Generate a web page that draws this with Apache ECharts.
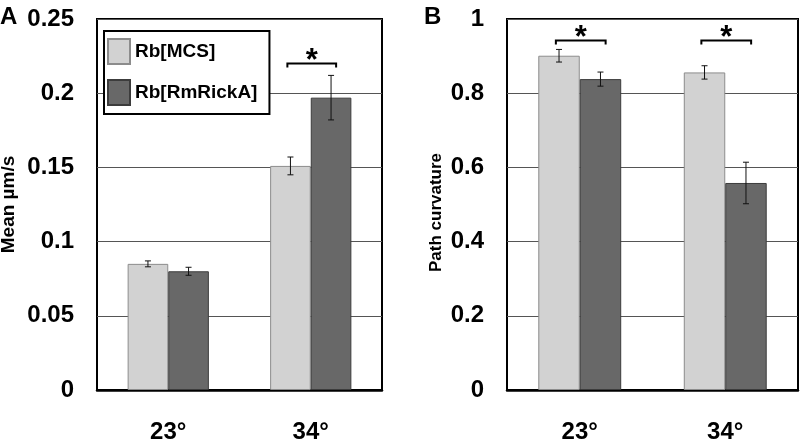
<!DOCTYPE html>
<html><head><meta charset="utf-8">
<script src="https://cdn.jsdelivr.net/npm/echarts@6/dist/echarts.min.js"></script>
<style>html,body{margin:0;padding:0;background:#fff}#c{width:800px;height:440px}</style>
</head><body><div id="c"></div>
<script>
const categories = ['23°', '34°'];
const seriesNames = ['Rb[MCS]', 'Rb[RmRickA]'];
const speedMCS = [0.085, 0.151];
const speedMCSErr = [0.002, 0.006];
const speedRick = [0.080, 0.197];
const speedRickErr = [0.0027, 0.015];
const curvMCS = [0.901, 0.856];
const curvMCSErr = [0.017, 0.018];
const curvRick = [0.838, 0.558];
const curvRickErr = [0.019, 0.056];
const sigA = [[1, 0.22]];
const sigB = [[0, 0.942], [1, 0.942]];
const yTicksA = {min: 0, max: 0.25, interval: 0.05};
const yTicksB = {min: 0, max: 1, interval: 0.2};

const FONT = 'Liberation Sans';
const LIGHT = {color: '#d2d2d2', borderColor: '#8c8c8c', borderWidth: 1};
const DARK = {color: '#686868', borderColor: '#3c3c3c', borderWidth: 1};
const GAP = 0.43;

function errSeries(gi, vals, errs, sign) {
  return {
    type: 'custom', xAxisIndex: gi, yAxisIndex: gi, z: 5, silent: true,
    data: vals.map((v, i) => [i, v, errs[i]]),
    encode: {x: 0, y: 1},
    renderItem: function (params, api) {
      const band = api.size([1, 0])[0];
      const bw = band * (1 - GAP) / 2;
      const i = api.value(0), v = api.value(1), e = api.value(2);
      const x = api.coord([i, v])[0] + sign * bw / 2;
      const yt = api.coord([i, v + e])[1];
      const yb = api.coord([i, v - e])[1];
      const st = {stroke: '#111', lineWidth: 1};
      return {type: 'group', children: [
        {type: 'line', shape: {x1: x, y1: yt, x2: x, y2: yb}, style: st},
        {type: 'line', shape: {x1: x - 3, y1: yt, x2: x + 3, y2: yt}, style: st},
        {type: 'line', shape: {x1: x - 3, y1: yb, x2: x + 3, y2: yb}, style: st}
      ]};
    }
  };
}
function sigSeries(gi, data) {
  return {
    type: 'custom', xAxisIndex: gi, yAxisIndex: gi, z: 6, silent: true,
    data: data, encode: {x: 0, y: 1},
    renderItem: function (params, api) {
      const band = api.size([1, 0])[0];
      const bw = band * (1 - GAP) / 2;
      const c = api.coord([api.value(0), api.value(1)]);
      const x1 = c[0] - bw * 0.6 + 1, x2 = c[0] + bw * 0.6 + 1, y = c[1];
      return {type: 'group', children: [
        {type: 'polyline', shape: {points: [[x1, y + 4], [x1, y], [x2, y], [x2, y + 4]]},
          style: {stroke: '#000', lineWidth: 2, fill: null}},
        {type: 'text', style: {text: '*', x: c[0] + 1, y: y + 13, align: 'center', verticalAlign: 'bottom',
          font: 'bold 31px "' + FONT + '"', fill: '#000'}}
      ]};
    }
  };
}
const axisLabelY = {fontSize: 24, fontWeight: 'bold', color: '#000', fontFamily: FONT, margin: 23};
function yAxis(t, name, pad) {
  return Object.assign({type: 'value', name: name, nameLocation: 'middle',
    nameGap: pad.gap,
    nameTextStyle: {fontSize: pad.fs, fontWeight: 'bold', color: '#000', fontFamily: FONT, padding: pad.p},
    axisLine: {show: false}, axisTick: {show: false},
    axisLabel: axisLabelY,
    splitLine: {lineStyle: {color: '#555', width: 1}}}, t);
}
function xAxis(gi) {
  return {type: 'category', gridIndex: gi, data: categories,
    axisLine: {lineStyle: {color: '#000', width: 2.5}}, axisTick: {show: false},
    axisLabel: {fontSize: 24, fontWeight: 'bold', color: '#000', fontFamily: FONT, margin: 30}};
}
const chart = echarts.init(document.getElementById('c'), null, {renderer: 'canvas'});
chart.setOption({
  animation: false,
  backgroundColor: '#fff',
  grid: [
    {left: 97, right: 418, top: 19, bottom: 50, show: true, borderColor: '#000', borderWidth: 2, outerBoundsMode: 'none', containLabel: false},
    {left: 507, right: 2, top: 19, bottom: 50, show: true, borderColor: '#000', borderWidth: 2, outerBoundsMode: 'none', containLabel: false}
  ],
  xAxis: [xAxis(0), xAxis(1)],
  yAxis: [
    Object.assign(yAxis(yTicksA, 'Mean µm/s', {gap: 79, fs: 19, p: [0, 0, 0, 0]}), {gridIndex: 0}),
    Object.assign(yAxis(yTicksB, 'Path curvature', {gap: 62, fs: 17, p: [0, 16, 0, 0]}), {gridIndex: 1})
  ],
  legend: {
    data: seriesNames, orient: 'vertical', left: 104, top: 31,
    itemWidth: 22, itemHeight: 25, itemGap: 14, icon: 'rect',
    padding: [7, 12, 8, 3], borderColor: '#000', borderWidth: 2, backgroundColor: '#fff',
    textStyle: {fontSize: 19, fontWeight: 'bold', color: '#000', fontFamily: FONT}, itemTextGap: 4,
    selectedMode: false
  },
  graphic: [
    {type: 'text', left: 0, top: 5, style: {text: 'A', font: 'bold 24px "' + FONT + '"', fill: '#000'}},
    {type: 'text', left: 424, top: 5, style: {text: 'B', font: 'bold 24px "' + FONT + '"', fill: '#000'}}
  ],
  series: [
    {name: seriesNames[0], type: 'bar', xAxisIndex: 0, yAxisIndex: 0, data: speedMCS, barGap: 0, barCategoryGap: '43%', itemStyle: LIGHT},
    {name: seriesNames[1], type: 'bar', xAxisIndex: 0, yAxisIndex: 0, data: speedRick, barGap: 0, barCategoryGap: '43%', itemStyle: DARK},
    {name: seriesNames[0], type: 'bar', xAxisIndex: 1, yAxisIndex: 1, data: curvMCS, barGap: 0, barCategoryGap: '43%', itemStyle: LIGHT},
    {name: seriesNames[1], type: 'bar', xAxisIndex: 1, yAxisIndex: 1, data: curvRick, barGap: 0, barCategoryGap: '43%', itemStyle: DARK},
    errSeries(0, speedMCS, speedMCSErr, -1),
    errSeries(0, speedRick, speedRickErr, 1),
    errSeries(1, curvMCS, curvMCSErr, -1),
    errSeries(1, curvRick, curvRickErr, 1),
    sigSeries(0, sigA),
    sigSeries(1, sigB)
  ]
});
</script></body></html>
